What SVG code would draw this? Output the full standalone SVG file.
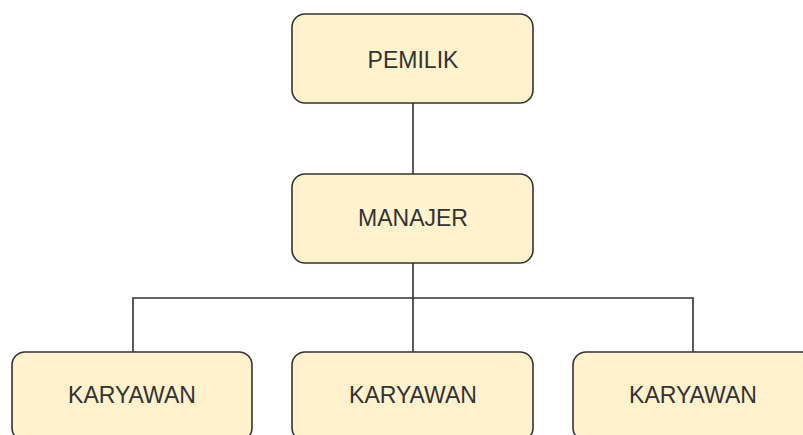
<svg xmlns="http://www.w3.org/2000/svg" width="803" height="435" viewBox="0 0 803 435">
<style>
.box{fill:#fff2cc;stroke:#333333;stroke-width:1.6}
.lbl{font-family:"Liberation Sans",Arial,sans-serif;font-size:23px;fill:#333333;text-anchor:middle}
.con{fill:none;stroke:#333333;stroke-width:1.6}
</style>
<rect width="803" height="435" fill="#ffffff"/>
<g id="connectors">
<path class="con" d="M413 103V174"/>
<path class="con" d="M413 263V298"/>
<path class="con" d="M133 352V298H693V352"/>
<path class="con" d="M413 298V352"/>
</g>
<g id="pemilik">
<rect class="box" x="292" y="14" width="241" height="89" rx="13"/>
<text class="lbl" x="413" y="68">PEMILIK</text>
</g>
<g id="manajer">
<rect class="box" x="292" y="174" width="241" height="89" rx="13"/>
<text class="lbl" x="413" y="226">MANAJER</text>
</g>
<g id="karyawan1">
<rect class="box" x="12" y="352" width="240" height="89" rx="13"/>
<text class="lbl" x="132" y="403">KARYAWAN</text>
</g>
<g id="karyawan2">
<rect class="box" x="292" y="352" width="241" height="89" rx="13"/>
<text class="lbl" x="413" y="403">KARYAWAN</text>
</g>
<g id="karyawan3">
<rect class="box" x="573" y="352" width="241" height="89" rx="13"/>
<text class="lbl" x="693" y="403">KARYAWAN</text>
</g>
</svg>
